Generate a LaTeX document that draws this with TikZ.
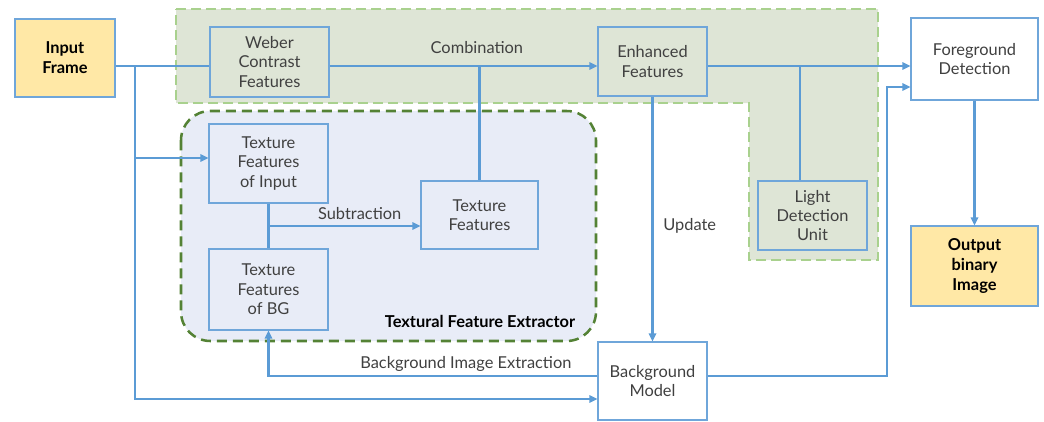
\documentclass[tikz,border=0pt]{standalone}
\usepackage{fontspec}
\setmainfont{Lato}
\usetikzlibrary{positioning,arrows.meta,backgrounds,calc}

\definecolor{lineblue}{HTML}{5B9BD5}
\definecolor{boxblue}{HTML}{6FA6DA}
\definecolor{textgray}{HTML}{404040}
\definecolor{keyyellow}{HTML}{FFE8A6}
\definecolor{grnfill}{HTML}{DEE5D6}
\definecolor{grndash}{HTML}{A9D18E}
\definecolor{bluefill}{HTML}{E8ECF7}
\definecolor{darkgrn}{HTML}{548235}

\begin{document}
\begin{tikzpicture}[
        x=0.75pt, y=-0.75pt,
        font=\fontsize{12.3}{14.5}\selectfont,
        box/.style={
            rectangle, draw=boxblue, line width=0.8pt, align=center,
            text=textgray, inner sep=2pt
        },
        key/.style ={box, fill=keyyellow, text=black, font=\fontsize{12.3}{15}\selectfont\bfseries},
        grn/.style ={box, fill=grnfill},
        tex/.style ={box, fill=bluefill},
        plain/.style={box, fill=white},
        link/.style={draw=lineblue, line width=1.6pt},
        flow/.style={link, -{Triangle[length=6pt,width=5.5pt]}},
        lab/.style ={text=textgray}
    ]
        \useasboundingbox (0,0) rectangle (1044,421);

        % boxes
        \node[key,   minimum width=75pt,    minimum height=58.5pt]  (inp) at (65,58)       {Input\\Frame};
        \node[grn,   minimum width=89.25pt, minimum height=52.5pt]  (web) at (269.5,62)    {Weber\\Contrast\\Features};
        \node[grn,   minimum width=81.75pt, minimum height=51.75pt] (enh) at (652.5,61.5)  {Enhanced\\Features};
        \node[grn,   minimum width=81.75pt, minimum height=51.75pt] (ldu) at (812.5,215.5) {Light\\Detection\\Unit};
        \node[plain, minimum width=95.25pt, minimum height=61.5pt]  (fgd) at (974.5,59)    {Foreground\\Detection};
        \node[key,   minimum width=95.25pt, minimum height=60pt]    (out) at (974.5,266)   {Output\\binary\\Image};
        \node[plain, minimum width=81.75pt, minimum height=58.5pt]  (bgm) at (652.5,381)   {Background\\Model};
        \node[tex,   minimum width=89.25pt, minimum height=59.25pt] (tfi) at (268.5,163.5) {Texture\\Features\\of Input};
        \node[tex,   minimum width=89.25pt, minimum height=60.75pt] (tbg) at (268.5,289.5) {Texture\\Features\\of BG};
        \node[tex,   minimum width=87.75pt, minimum height=51pt]    (tfe) at (479.5,215)   {Texture\\Features};
        \node[font=\fontsize{12.3}{15}\selectfont\bfseries] (tfelab) at (480,321) {Textural Feature Extractor};

        % regions
        \begin{scope}[on background layer]
            \path[fill=grnfill, draw=grndash, line width=1.5pt, dash pattern=on 7.5pt off 3.75pt]
                (176,9) -- (878,9) -- (878,260) -- (749,260) -- (749,103) -- (176,103) -- cycle;
            \path[fill=bluefill, draw=darkgrn, line width=1.9pt, dash pattern=on 7.5pt off 4.5pt, rounded corners=22pt]
                (181,111) rectangle (596,341);
        \end{scope}

        % lanes
        \coordinate (top)   at (0,66);
        \coordinate (bie)   at (0,376);
        \coordinate (low)   at (0,399);
        \coordinate (split) at (135,66);
        \coordinate (light) at (800,66);
        \coordinate (fdin)  at (887,87);
        \coordinate (sub)   at ($(tfi.south)!0.5!(tbg.north)$);

        % connectors
        \draw[link] (inp.east |- top) -- (web.west |- top);
        \draw[flow] (split) |- (tfi.west |- 0,158);
        \draw[flow] (split) |- (bgm.west |- low);
        \draw[flow] (web.east |- top) -- node[lab, above=5pt, pos=0.55]{Combination} (enh.west |- top);
        \draw[link] (tfe.north) -- (tfe.north |- top);
        \draw[link] (tfi) -- (tbg);
        \draw[flow] (sub) -- node[lab, above=1pt, pos=0.6]{Subtraction} (tfe.west |- sub);
        \draw[flow] (enh.east |- top) -- (fgd.west |- top);
        \draw[link] (light) -- (light |- ldu.north);
        \draw[flow] (enh.south) -- node[lab, right=4pt, pos=0.53]{Update} (bgm.north);
        \draw[flow] (bgm.west |- bie) -| node[lab, above=-1pt, pos=0.2]{Background Image Extraction} (tbg.south);
        \draw[flow] (bgm.east |- bie) -| (fdin) -- (fgd.west |- fdin);
        \draw[flow] (fgd) -- (out);
    \end{tikzpicture}
\end{document}
